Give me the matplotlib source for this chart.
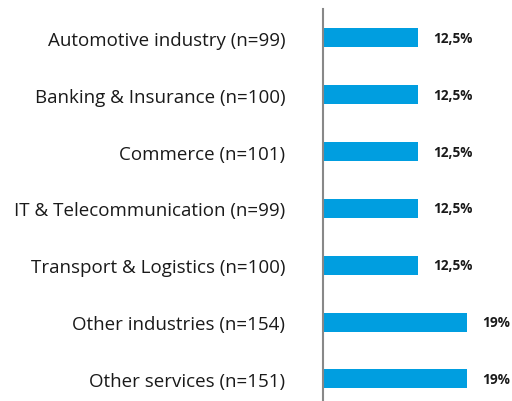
import matplotlib.pyplot as plt

plt.rcParams['font.family'] = ['Open Sans', 'DejaVu Sans']

categories = ['Automotive industry (n=99)', 'Banking & Insurance (n=100)', 'Commerce (n=101)',
              'IT & Telecommunication (n=99)', 'Transport & Logistics (n=100)',
              'Other industries (n=154)', 'Other services (n=151)']
values = [12.5, 12.5, 12.5, 12.5, 12.5, 19, 19]
value_labels = ['12,5%', '12,5%', '12,5%', '12,5%', '12,5%', '19%', '19%']

fig = plt.figure(figsize=(5.12, 4.02), dpi=100)
ax = fig.add_axes([323/512, 0, 189/512, 392/402])

y = list(range(len(categories)))
ax.barh(y, values, height=0.335, color='#009EE0')
for yi, v, lab in zip(y, values, value_labels):
    ax.text(v + 1.95, yi, lab, va='center', ha='left', fontsize=9.8, fontweight='bold', color='#1a1a1a')

ax.set_xlim(0, 189/7.6)
ax.set_ylim(6.39, -0.51)
ax.set_yticks(y)
ax.set_yticklabels(categories, fontsize=13.5, color='#1a1a1a')
ax.tick_params(axis='y', length=0, pad=27)
ax.set_xticks([])
for s in ['top', 'right', 'bottom']:
    ax.spines[s].set_visible(False)
ax.spines['left'].set_color('#888888')
ax.spines['left'].set_linewidth(1.5)

fig.savefig('out.png', dpi=100)
